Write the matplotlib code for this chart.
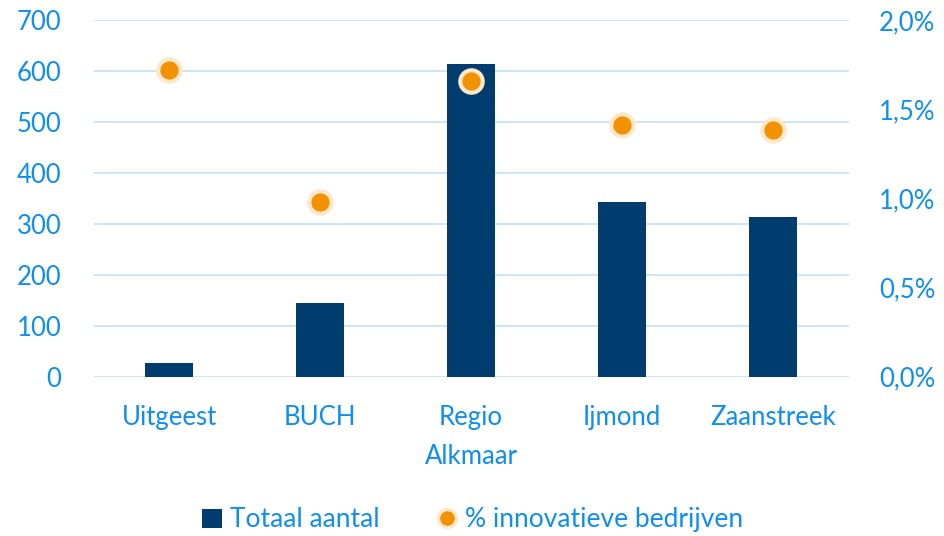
import matplotlib.pyplot as plt
from matplotlib.lines import Line2D
from matplotlib.patches import Patch

# Data
regions = ['Uitgeest', 'BUCH', 'Regio\nAlkmaar', 'Ijmond', 'Zaanstreek']
totaal = [27, 145, 614, 343, 314]
pct_innovatief = [1.72, 0.98, 1.66, 1.41, 1.38]
left_ticks = [0, 100, 200, 300, 400, 500, 600, 700]
right_ticks = [0.0, 0.5, 1.0, 1.5, 2.0]

bar_color = '#003D6E'
dot_color = '#F39200'
dot_edge = '#FDE8CC'
text_color = '#0E8EEF'
grid_color = '#C2E1F7'

plt.rcParams['font.family'] = ['Lato', 'DejaVu Sans']

fig = plt.figure(figsize=(9.45, 5.36), dpi=100)
ax = fig.add_axes([0.099, 0.297, 0.799, 0.666])
ax2 = ax.twinx()

x = list(range(len(regions)))
ax.bar(x, totaal, width=0.32, color=bar_color, zorder=2)
ax2.scatter(x, pct_innovatief, s=260, color=dot_color, edgecolors=dot_edge,
            linewidths=3, zorder=3)

ax.set_xlim(-0.5, len(regions) - 0.5)
ax.set_ylim(0, 700)
ax2.set_ylim(0, 2.0)
ax.set_yticks(left_ticks)
ax2.set_yticks(right_ticks)
ax2.set_yticklabels([f'{v:.1f}%'.replace('.', ',') for v in right_ticks])
ax.set_xticks(x)
ax.set_xticklabels(regions)

for a in (ax, ax2):
    for s in a.spines.values():
        s.set_visible(False)
    a.tick_params(colors=text_color, labelsize=18.5, length=0)
ax.tick_params(axis='y', pad=23)
ax2.tick_params(axis='y', pad=22)
ax.tick_params(axis='x', pad=20)
for lbl in ax.get_xticklabels():
    lbl.set_linespacing(1.7)

ax.yaxis.grid(True, color=grid_color, linewidth=1.2, zorder=0)
ax.set_axisbelow(True)

handles = [
    Patch(facecolor=bar_color, label='Totaal aantal'),
    Line2D([], [], marker='o', linestyle='none', markersize=13,
           markerfacecolor=dot_color, markeredgecolor=dot_edge,
           markeredgewidth=2.5, label='% innovatieve bedrijven'),
]
leg = fig.legend(handles=handles, loc='center', bbox_to_anchor=(0.5, 0.03),
                 ncol=2, frameon=False, fontsize=19, handlelength=0.75,
                 handleheight=0.75, handletextpad=0.3, columnspacing=2.2)
for t in leg.get_texts():
    t.set_color(text_color)

fig.savefig('out.png', dpi=100)
